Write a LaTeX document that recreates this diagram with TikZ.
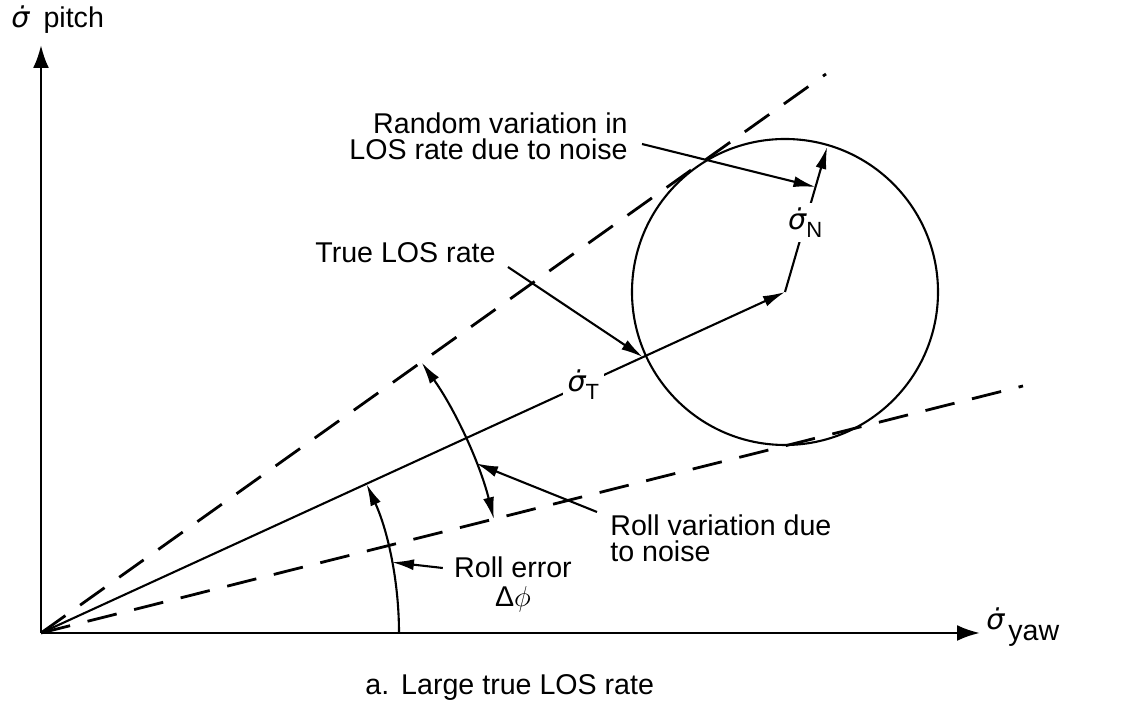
\documentclass[tikz,border=0pt]{standalone}
\usepackage{fontspec}
\usepackage{amsmath}
\setmainfont{Liberation Sans}
\newfontfamily\dvs{DejaVu Sans}
\usetikzlibrary{arrows.meta,calc}
\newcommand{\sdot}{{\dvs\itshape σ̇}}
\newcommand{\subs}[1]{\raisebox{-0.28em}{\fontsize{11}{11}\selectfont #1}}
\begin{document}
\begin{tikzpicture}[x=0.5pt,y=0.5pt,
  lbl/.style={font=\fontsize{14.3}{13}\selectfont, inner sep=0pt},
  axisline/.style={line width=1.4pt,-{Latex[length=11.5pt,width=8pt]}},
  thinline/.style={line width=1.05pt},
  dashline/.style={line width=1.4pt,dash pattern=on 15pt off 9pt},
  ar/.style={-{Latex[length=11pt,width=5.5pt]}},
  dar/.style={{Latex[length=11pt,width=5.5pt]}-{Latex[length=11pt,width=5.5pt]}},
  onlabel/.style={lbl,fill=white,inner sep=2.5pt}]
\useasboundingbox (0,0) rectangle (1121,711);
% axes
\coordinate (O) at (41,78);
\coordinate (Ytip) at (41,666);
\coordinate (Xtip) at (980,78);
\draw[axisline] (O) -- (Ytip);
\draw[axisline] (O) -- (Xtip);
\node[lbl,anchor=base west] (pitch) at (11,683) {\sdot\hspace{7pt}pitch};
\node[lbl,anchor=base west] (ysig) at (986,81) {\sdot};
\node[lbl,anchor=base west] (yaw) at (1008,70) {yaw};
% circle and tangents
\coordinate (C) at (785,419);
\draw[thinline] (C) circle[radius=153];
\coordinate (N) at ($(C)+(73.8:151)$);
\coordinate (U) at (826,637);
\coordinate (L) at (1023,325);
\draw[dashline] (O) -- (U);
\draw[dashline] (O) -- (L);
% vectors
\draw[thinline,ar] (O) -- node[pos=0.729,onlabel] (sT) {\sdot\subs{T}} (C);
\draw[thinline,ar] (C) -- node[pos=0.48,onlabel] (sN) {\sdot\subs{N}} (N);
% arcs
\draw[thinline,ar] ($(O)+(0:358)$) arc[start angle=0,end angle=24.6,radius=358];
\draw[thinline,dar] ($(O)+(14.1:467)$) arc[start angle=14.1,end angle=35.4,radius=467];
% labels
\node[lbl,anchor=north,align=center] (re) at (513,155) {Roll error\\[1.5pt]Δ$\phi$};
\node[lbl,anchor=north west,align=left] (rv) at (610,197) {Roll variation due\\to noise};
\node[lbl,anchor=base west] (tl) at (315,448) {True LOS rate};
\node[lbl,anchor=north east,align=right] (rn) at (628,599) {Random variation in\\LOS rate due to noise};
\node[lbl,anchor=base west] (cap) at (365,16) {a.\hspace{6pt}Large true LOS rate};
% leaders
\coordinate (reA) at ($(O)+(11.4:358)$);
\coordinate (rvA) at ($(O)+(21.3:467)$);
\coordinate (tlA) at ($(O)!0.809!(C)$);
\coordinate (rnA) at ($(C)!0.724!(N)$);
\draw[thinline,ar] ($(re.north west)+(-11,-12)$) -- (reA);
\draw[thinline,ar] ($(rv.north west)+(-13,2)$) -- (rvA);
\draw[thinline,ar] ($(tl.base east)+(12,-4)$) -- (tlA);
\draw[thinline,ar] ($(rn.north east)+(14,-32)$) -- (rnA);
\end{tikzpicture}
\end{document}
